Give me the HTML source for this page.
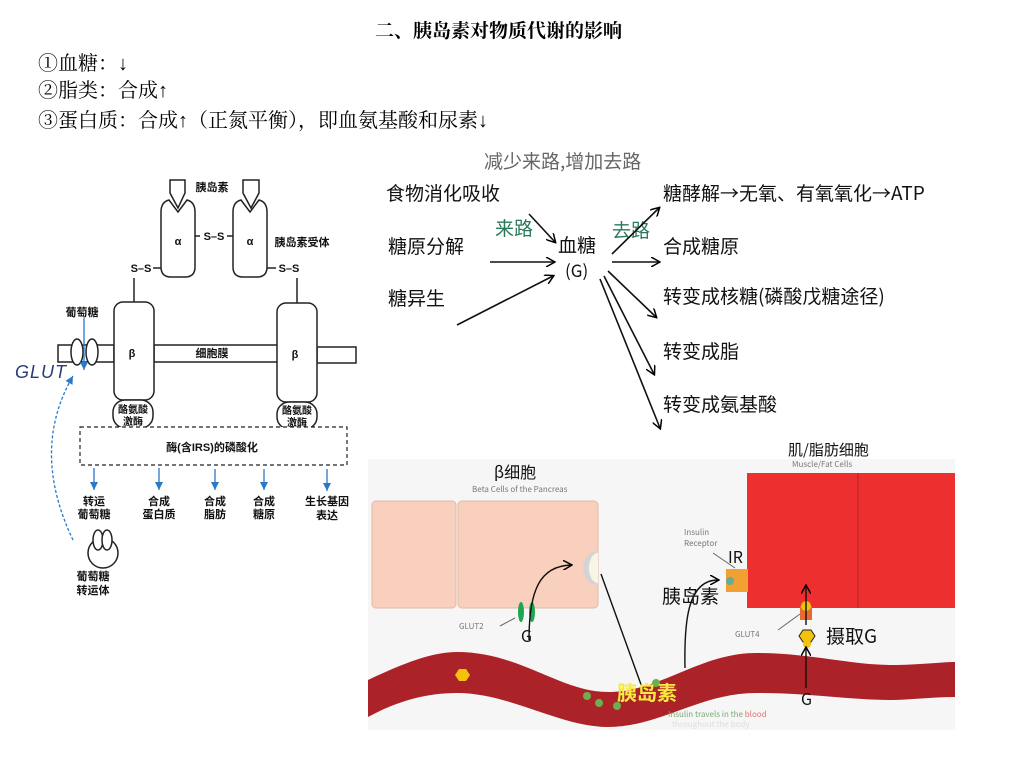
<!DOCTYPE html>
<html><head><meta charset="utf-8"><style>
body{margin:0;background:#fff;}
svg{display:block;font-family:"Liberation Sans","Noto Sans CJK SC",sans-serif;}
.hw{font-family:"Noto Sans CJK SC","WenQuanYi Zen Hei",sans-serif;}
</style></head><body>
<svg width="1011" height="782" viewBox="0 0 1011 782" xmlns="http://www.w3.org/2000/svg">
<defs>
<marker id="ah" markerWidth="10" markerHeight="10" refX="8" refY="5" orient="auto" markerUnits="userSpaceOnUse"><path d="M0,0 L9,5 L0,10" fill="none" stroke="#000" stroke-width="1.5"/></marker>
<marker id="ab" markerWidth="8" markerHeight="8" refX="8" refY="4" orient="auto" markerUnits="userSpaceOnUse"><path d="M0,0 L8,4 L0,8 Z" fill="#2a78c8"/></marker>
</defs>
<text x="375" y="37" font-size="19" font-weight="bold" font-family="Liberation Serif,Noto Serif CJK SC,serif">二、胰岛素对物质代谢的影响</text>
<g font-size="20" font-family="Liberation Serif,Noto Serif CJK SC,serif">
<text x="38" y="70">①血糖：↓</text>
<text x="38" y="97">②脂类：合成↑</text>
<text x="38" y="127">③蛋白质：合成↑（正氮平衡），即血氨基酸和尿素↓</text>
</g>

<g stroke="#222" stroke-width="1.5" fill="#fff">
<path d="M170,180 h15 v13 l-7,15 l-8,-15 z"/>
<path d="M243,180 h16 v13 l-8,15 l-8,-15 z"/>
<path d="M161,212 q0,-10 8,-12 l9,12 l9,-12 q8,2 8,12 v55 q0,10 -10,10 h-14 q-10,0 -10,-10 z"/>
<path d="M233,212 q0,-10 8,-12 l9,12 l9,-12 q8,2 8,12 v55 q0,10 -10,10 h-14 q-10,0 -10,-10 z"/>
<path d="M58,345 h56 v17 h-56 z"/>
<path d="M154,345 h124 v17 h-124 z"/>
<path d="M317,347 h39 v16 h-39 z"/>
<ellipse cx="77" cy="352" rx="6" ry="13"/>
<ellipse cx="92" cy="352" rx="6" ry="13"/>
<rect x="114" y="302" width="40" height="98" rx="9"/>
<rect x="277" y="303" width="40" height="99" rx="9"/>
<rect x="113" y="400" width="40" height="28" rx="12"/>
<rect x="277" y="402" width="40" height="27" rx="12"/>
<line x1="134" y1="278" x2="134" y2="302"/>
<line x1="297" y1="278" x2="297" y2="303"/>
<line x1="153" y1="268" x2="161" y2="268"/>
<line x1="267" y1="268" x2="276" y2="268"/>
<line x1="195" y1="236" x2="200" y2="236"/>
<line x1="227" y1="236" x2="233" y2="236"/>
<rect x="80" y="427" width="267" height="38" stroke-dasharray="4,3" stroke-width="1.2"/>
<circle cx="103" cy="553" r="15"/>
<ellipse cx="98" cy="540" rx="5" ry="10"/>
<ellipse cx="107" cy="540" rx="5" ry="10"/>
</g>
<g font-size="11" font-weight="bold" text-anchor="middle" fill="#111">
<text x="212" y="191">胰岛素</text>
<text x="302" y="246">胰岛素受体</text>
<text x="178" y="245">α</text><text x="250" y="245">α</text>
<text x="214" y="240">S–S</text>
<text x="141" y="272">S–S</text>
<text x="289" y="272">S–S</text>
<text x="132" y="357">β</text><text x="295" y="358">β</text>
<text x="212" y="357">细胞膜</text>
<text x="133" y="413" font-size="10">酪氨酸</text><text x="133" y="425" font-size="10">激酶</text>
<text x="297" y="414" font-size="10">酪氨酸</text><text x="297" y="426" font-size="10">激酶</text>
<text x="212" y="451">酶(含IRS)的磷酸化</text>
<text x="82" y="316">葡萄糖</text>
<text x="94" y="505">转运</text><text x="94" y="518">葡萄糖</text>
<text x="159" y="505">合成</text><text x="159" y="518">蛋白质</text>
<text x="215" y="505">合成</text><text x="215" y="518">脂肪</text>
<text x="264" y="505">合成</text><text x="264" y="518">糖原</text>
<text x="327" y="505">生长基因</text><text x="327" y="519">表达</text>
<text x="93" y="580">葡萄糖</text><text x="93" y="594">转运体</text>
</g>
<g stroke="#2a78c8" stroke-width="1.3" fill="none">
<line x1="84" y1="318" x2="84" y2="370" marker-end="url(#ab)"/>
<line x1="94" y1="468" x2="94" y2="490" marker-end="url(#ab)"/>
<line x1="159" y1="468" x2="159" y2="490" marker-end="url(#ab)"/>
<line x1="215" y1="469" x2="215" y2="490" marker-end="url(#ab)"/>
<line x1="264" y1="469" x2="264" y2="490" marker-end="url(#ab)"/>
<line x1="327" y1="469" x2="327" y2="491" marker-end="url(#ab)"/>
<path d="M73,540 Q30,450 73,376" stroke-dasharray="3,2" marker-end="url(#ab)"/>
</g>
<text x="15" y="378" font-size="18" font-style="italic" fill="#2a3a7a" font-family="Liberation Sans,sans-serif" letter-spacing="1">GLUT</text>

<g class="hw" font-size="19" fill="#111">
<text x="484" y="168" fill="#666">减少来路,增加去路</text>
<text x="386" y="200">食物消化吸收</text>
<text x="388" y="253">糖原分解</text>
<text x="388" y="305">糖异生</text>
<text x="558" y="252">血糖</text>
<text x="565" y="277" font-size="17">(G)</text>
<text x="495" y="235" fill="#2a7a5a">来路</text>
<text x="612" y="237" fill="#2a7a5a">去路</text>
<text x="663" y="200">糖酵解→无氧、有氧氧化→ATP</text>
<text x="663" y="253">合成糖原</text>
<text x="663" y="303">转变成核糖(磷酸戊糖途径)</text>
<text x="663" y="358">转变成脂</text>
<text x="663" y="411">转变成氨基酸</text>
</g>
<g stroke="#111" stroke-width="1.6" fill="none" marker-end="url(#ah)">
<line x1="529" y1="214" x2="555" y2="242"/>
<line x1="490" y1="262" x2="554" y2="262"/>
<line x1="457" y1="325" x2="553" y2="276"/>
<line x1="612" y1="254" x2="659" y2="208"/>
<line x1="612" y1="262" x2="659" y2="262"/>
<line x1="608" y1="271" x2="656" y2="317"/>
<line x1="604" y1="276" x2="654" y2="374"/>
<line x1="600" y1="279" x2="660" y2="428"/>
</g>

<rect x="368" y="459" width="587" height="271" fill="#f6f6f6"/>
<path d="M368,680 C400,665 430,652 457,652 C520,652 560,692 608,692 C660,692 700,653 756,653 C810,653 850,665 891,665 C920,665 940,662 955,662 L955,697 C930,697 910,700 891,700 C850,700 810,693 756,693 C700,693 660,727 608,727 C560,727 510,693 457,693 C420,693 390,705 368,717 Z" fill="#ab2328"/>
<rect x="372" y="501" width="84" height="107" rx="4" fill="#f9d0bd" stroke="#e0b9a8"/>
<rect x="458" y="501" width="140" height="107" rx="4" fill="#f9d0bd" stroke="#e0b9a8"/>
<path d="M598,551 A15,17 0 0 0 598,585 Z" fill="#d4d4d4"/>
<path d="M598,553 A9,15 0 0 0 598,583 Z" fill="#f8f5e6"/>
<rect x="747" y="473" width="208" height="135" fill="#ee2f30"/>
<line x1="858" y1="473" x2="858" y2="608" stroke="#b82024"/>
<rect x="726" y="569" width="22" height="23" fill="#f3a032"/>
<circle cx="730" cy="581" r="4" fill="#6a9"/>
<rect x="800" y="606" width="12" height="14" fill="#e86a30"/>
<circle cx="806" cy="606" r="5" fill="#f4c20d"/>
<ellipse cx="521" cy="612" rx="3" ry="10" fill="#1ea64f"/>
<ellipse cx="532" cy="612" rx="3" ry="10" fill="#1ea64f"/>
<polygon points="455,675 459,669 466,669 470,675 466,681 459,681" fill="#f4c20d"/>
<polygon points="799,636 803,630 811,630 815,636 811,642 803,642" fill="#f4c20d" stroke="#222"/>
<circle cx="807" cy="644" r="4" fill="#f4c20d"/>
<g fill="#6ab04c"><circle cx="587" cy="696" r="4"/><circle cx="599" cy="703" r="4"/><circle cx="617" cy="706" r="4"/><circle cx="656" cy="683" r="4"/></g>
<g stroke="#111" stroke-width="1.4" fill="none">
<path d="M529,640 C529,590 540,566 571,565" marker-end="url(#ah)"/>
<line x1="601" y1="574" x2="643" y2="690"/>
<path d="M685,668 C684,620 688,580 718,580" marker-end="url(#ah)"/>
<line x1="806" y1="625" x2="806" y2="586" marker-end="url(#ah)"/>
<line x1="806" y1="688" x2="806" y2="648" marker-end="url(#ah)"/>
</g>
<line x1="713" y1="553" x2="735" y2="568" stroke="#666"/>
<line x1="500" y1="626" x2="515" y2="618" stroke="#666"/>
<line x1="778" y1="630" x2="800" y2="614" stroke="#666"/>
<g class="hw" fill="#111">
<text x="494" y="478" font-size="16">β细胞</text>
<text x="472" y="492" font-size="8" fill="#777">Beta Cells of the Pancreas</text>
<text x="788" y="455" font-size="15">肌/脂肪细胞</text>
<text x="792" y="467" font-size="8" fill="#777">Muscle/Fat Cells</text>
<text x="684" y="535" font-size="8" fill="#777">Insulin</text>
<text x="684" y="546" font-size="8" fill="#777">Receptor</text>
<text x="728" y="563" font-size="16">IR</text>
<text x="662" y="603" font-size="19">胰岛素</text>
<text x="459" y="629" font-size="8" fill="#777">GLUT2</text>
<text x="521" y="642" font-size="16">G</text>
<text x="735" y="637" font-size="8" fill="#777">GLUT4</text>
<text x="826" y="643" font-size="19">摄取G</text>
<text x="801" y="705" font-size="16">G</text>
<text x="617" y="700" font-size="20" fill="#f8e840" font-weight="bold">胰岛素</text>
<text x="668" y="717" font-size="8" fill="#7a7">Insulin travels in the <tspan fill="#e07070">blood</tspan></text>
<text x="672" y="727" font-size="8" fill="#ddd">throughout the body</text>
</g>
</svg>
</body></html>
